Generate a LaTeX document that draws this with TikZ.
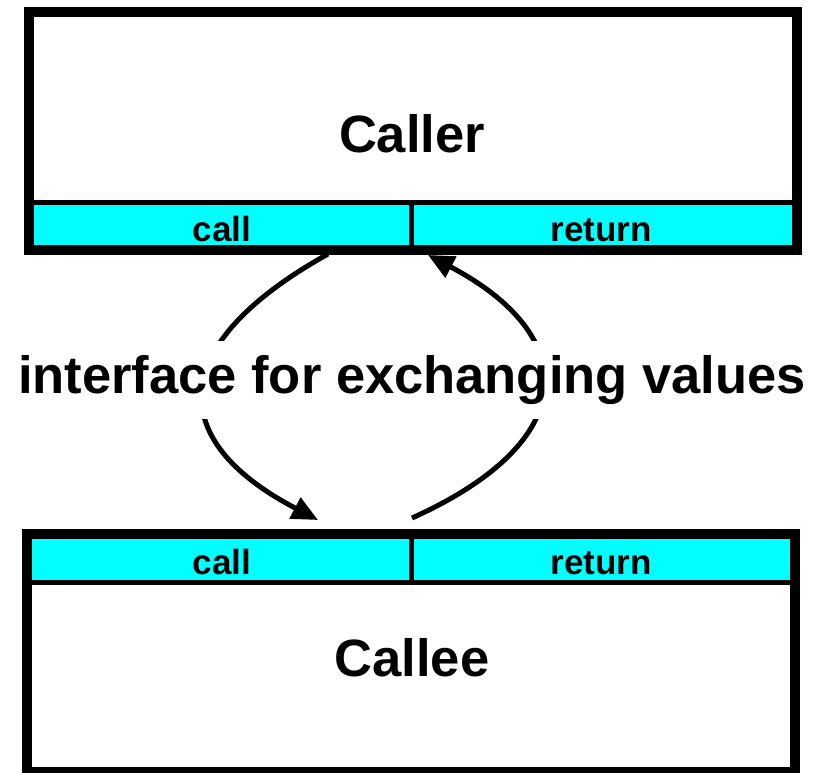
\documentclass[tikz,border=0pt]{standalone}
\usepackage{fontspec}
\setmainfont{Liberation Sans}
\usetikzlibrary{arrows.meta}
\definecolor{stripcyan}{RGB}{0,255,255}
\begin{document}
\begin{tikzpicture}[x=1pt,y=-1pt,
  frame/.style={draw=black,line width=10pt},
  sepline/.style={draw=black,line width=5pt},
  strip/.style={fill=stripcyan},
  bigtext/.style={font=\bfseries\fontsize{52.5}{60}\selectfont,anchor=base,inner sep=0pt},
  celltext/.style={font=\bfseries\fontsize{35}{42}\selectfont,anchor=base,inner sep=0pt},
  flow/.style={draw=black,line width=5pt,-{Triangle[length=26pt,width=23pt]}}]
\useasboundingbox (0,0) rectangle (820,773);

% caller block with its call/return strip
\fill[strip] (34,200) rectangle (792,250);
\draw[sepline] (34,202.5) -- (792,202.5);
\draw[sepline] (411.5,202.5) -- (411.5,250);
\draw[frame] (29,12.5) rectangle (797,250);
\node[bigtext] (caller) at (412,153) {Caller};
\node[celltext] (callerCall) at (222,241) {call};
\node[celltext] (callerRet) at (601,241) {return};

% callee block with its call/return strip
\fill[strip] (32,539) rectangle (790,582.5);
\draw[sepline] (32,582.5) -- (790,582.5);
\draw[sepline] (411.5,539) -- (411.5,582.5);
\draw[frame] (27,534) rectangle (795,772);
\node[bigtext] (callee) at (412,676) {Callee};
\node[celltext] (calleeCall) at (222,574) {call};
\node[celltext] (calleeRet) at (601,574) {return};

% end points of the exchange arrows
\coordinate (callOut) at (328,254);
\coordinate (callIn) at (318,520);
\coordinate (retOut) at (412,518);
\coordinate (retIn) at (428,255);

\draw[flow] (callOut) .. controls (165,345) and (165,440) .. (callIn);
\draw[flow] (retOut) .. controls (585,440) and (580,335) .. (retIn);

% label over the arrows
\node[font=\bfseries\fontsize{52.5}{60}\selectfont,fill=white,inner xsep=2pt,inner ysep=14pt] (iface) at (412,380) {interface for exchanging values};
\end{tikzpicture}
\end{document}
